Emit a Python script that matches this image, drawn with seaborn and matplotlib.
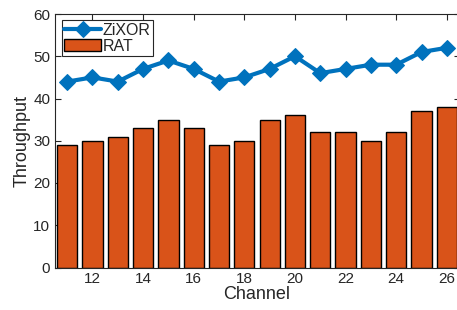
import numpy as np
import pandas as pd
import matplotlib
matplotlib.use("Agg")
import matplotlib.pyplot as plt
import seaborn as sns

# data
channels = list(range(11, 27))
zixor = [44, 45, 44, 47, 49, 47, 44, 45, 47, 50, 46, 47, 48, 48, 51, 52]
rat = [29, 30, 31, 33, 35, 33, 29, 30, 35, 36, 32, 32, 30, 32, 37, 38]

df = pd.DataFrame({"Channel": channels, "ZiXOR": zixor, "RAT": rat})

sns.set_style("ticks")
plt.rcParams["font.family"] = ["Liberation Sans", "DejaVu Sans"]

fig = plt.figure(figsize=(4.57, 3.10), dpi=100)
ax = fig.add_axes([54.5 / 457, 1 - 267.5 / 310, 405 / 457, 253.5 / 310])

# bars at native x positions (channel numbers)
ax.bar(df["Channel"], df["RAT"], width=0.8, color="#D95319",
       edgecolor="black", linewidth=1.0, label="RAT", zorder=2)
sns.lineplot(data=df, x="Channel", y="ZiXOR", ax=ax, color="#0072BD",
             linewidth=3, marker="D", markersize=8, markeredgecolor="#0072BD",
             label="ZiXOR", zorder=3)

ax.set_xlim(10.5, 26.5)
ax.set_ylim(0, 60)
ax.set_xticks(range(12, 27, 2))
ax.set_yticks(range(0, 61, 10))
ax.tick_params(direction="in", length=4, width=0.8, labelsize=11,
               colors="#262626", top=True, right=True, pad=3)
for s in ax.spines.values():
    s.set_linewidth(0.8)
    s.set_color("#262626")

ax.set_xlabel("Channel", fontsize=13, labelpad=0, color="#262626")
ax.set_ylabel("Throughput", fontsize=13, labelpad=2, color="#262626")

h, l = ax.get_legend_handles_labels()
order = [l.index("ZiXOR"), l.index("RAT")]
leg = ax.legend([h[i] for i in order], [l[i] for i in order],
                loc="upper left", bbox_to_anchor=(0.018, 0.975),
                fontsize=11.5, frameon=True, fancybox=False, framealpha=1,
                edgecolor="#262626", handlelength=2.3, handleheight=0.8,
                handletextpad=0.1, borderpad=0.15, labelspacing=0.05,
                borderaxespad=0)
leg.get_frame().set_linewidth(0.8)

fig.savefig("out.png", dpi=100)
